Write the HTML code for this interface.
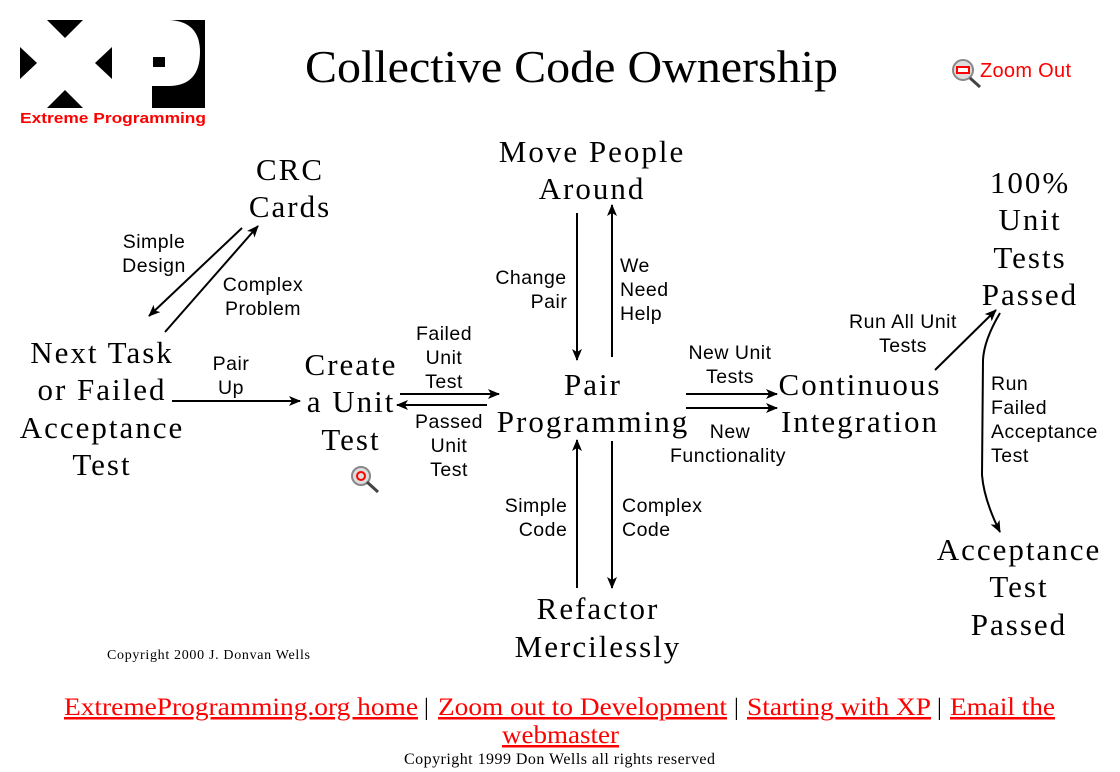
<!DOCTYPE html>
<html><head><meta charset="utf-8"><style>
html,body{margin:0;padding:0;background:#fff;width:1120px;height:772px;overflow:hidden}
svg{position:absolute;left:0;top:0}
.n{font-family:"Liberation Serif",serif;font-size:31px;letter-spacing:2px;fill:#000;text-anchor:middle}
.l{font-family:"Liberation Sans",sans-serif;font-size:19.5px;letter-spacing:0.5px;fill:#000;text-anchor:middle}
.ll{font-family:"Liberation Sans",sans-serif;font-size:19.5px;letter-spacing:0.5px;fill:#000}
.lk{font-family:"Liberation Serif",serif;font-size:25px;fill:#f00;text-decoration:underline}
.sp{font-family:"Liberation Serif",serif;font-size:24px}
</style></head><body>
<svg width="1120" height="772" viewBox="0 0 1120 772">
<defs><marker id="a" markerWidth="12" markerHeight="10" refX="11" refY="5" orient="auto" markerUnits="userSpaceOnUse"><path d="M0,0 L12,5 L0,10 L3,5Z" fill="#000"/></marker></defs>
<!-- logo -->
<polygon points="47,20 83,20 65,38" fill="#000"/>
<polygon points="20,47 37,63 20,79" fill="#000"/>
<polygon points="112,47 95,63 112,79" fill="#000"/>
<polygon points="47,108 83,108 65,90" fill="#000"/>
<rect x="152" y="20" width="53" height="88" fill="#000"/>
<path d="M148,20 L170,20 Q200,22 200,52 Q200,85 170,86 L152,86Z" fill="#fff"/>
<rect x="153" y="57" width="12" height="10" fill="#000"/>
<text x="20" y="123" font-family="Liberation Sans,sans-serif" font-weight="bold" font-size="15" fill="#f00" textLength="186" lengthAdjust="spacingAndGlyphs">Extreme Programming</text>
<text x="305" y="82" font-family="Liberation Serif,serif" font-size="45" textLength="533" lengthAdjust="spacingAndGlyphs">Collective Code Ownership</text>
<circle cx="963" cy="70" r="10" fill="#ddd" stroke="#888" stroke-width="2"/><rect x="957" y="67" width="12" height="6" fill="#fff" stroke="#f00" stroke-width="2"/><line x1="970" y1="78" x2="980" y2="87" stroke="#444" stroke-width="3"/>
<text x="980" y="77" font-family="Liberation Sans,sans-serif" font-size="20" fill="#f00" textLength="91">Zoom Out</text>
<!-- nodes -->
<text class="n"><tspan x="290" y="180">CRC</tspan><tspan x="290" y="217">Cards</tspan></text>
<text class="n"><tspan x="102" y="363">Next Task</tspan><tspan x="102" y="400">or Failed</tspan><tspan x="102" y="438">Acceptance</tspan><tspan x="102" y="475">Test</tspan></text>
<text class="n"><tspan x="351" y="375">Create</tspan><tspan x="351" y="412">a Unit</tspan><tspan x="351" y="450">Test</tspan></text>
<text class="n"><tspan x="592" y="162">Move People</tspan><tspan x="592" y="199">Around</tspan></text>
<text class="n"><tspan x="593" y="395">Pair</tspan><tspan x="593" y="432">Programming</tspan></text>
<text class="n"><tspan x="860" y="395">Continuous</tspan><tspan x="860" y="432">Integration</tspan></text>
<text class="n"><tspan x="1030" y="193">100%</tspan><tspan x="1030" y="230">Unit</tspan><tspan x="1030" y="268">Tests</tspan><tspan x="1030" y="305">Passed</tspan></text>
<text class="n"><tspan x="1019" y="560">Acceptance</tspan><tspan x="1019" y="597">Test</tspan><tspan x="1019" y="635">Passed</tspan></text>
<text class="n"><tspan x="598" y="619">Refactor</tspan><tspan x="598" y="657">Mercilessly</tspan></text>
<circle cx="361" cy="476" r="9" fill="#ddd" stroke="#888" stroke-width="2"/><circle cx="361" cy="476" r="4" fill="none" stroke="#f00" stroke-width="2"/><line x1="367" y1="482" x2="378" y2="492" stroke="#444" stroke-width="3"/>
<!-- labels -->
<text class="l"><tspan x="154" y="248">Simple</tspan><tspan x="154" y="272">Design</tspan></text>
<text class="l"><tspan x="263" y="291">Complex</tspan><tspan x="263" y="315">Problem</tspan></text>
<text class="l"><tspan x="231" y="370">Pair</tspan><tspan x="231" y="394">Up</tspan></text>
<text class="l"><tspan x="444" y="340">Failed</tspan><tspan x="444" y="364">Unit</tspan><tspan x="444" y="388">Test</tspan></text>
<text class="l"><tspan x="449" y="428">Passed</tspan><tspan x="449" y="452">Unit</tspan><tspan x="449" y="476">Test</tspan></text>
<text class="l"><tspan x="531" y="284">Change</tspan><tspan x="549" y="308">Pair</tspan></text>
<text class="ll"><tspan x="620" y="272">We</tspan><tspan x="620" y="296">Need</tspan><tspan x="620" y="320">Help</tspan></text>
<text class="l"><tspan x="730" y="359">New Unit</tspan><tspan x="730" y="383">Tests</tspan></text>
<text class="l"><tspan x="730" y="438">New</tspan><tspan x="728" y="462">Functionality</tspan></text>
<text class="l"><tspan x="903" y="328">Run All Unit</tspan><tspan x="903" y="352">Tests</tspan></text>
<text class="ll"><tspan x="991" y="390">Run</tspan><tspan x="991" y="414">Failed</tspan><tspan x="991" y="438">Acceptance</tspan><tspan x="991" y="462">Test</tspan></text>
<text class="l"><tspan x="536" y="512">Simple</tspan><tspan x="543" y="536">Code</tspan></text>
<text class="ll"><tspan x="622" y="512">Complex</tspan><tspan x="622" y="536">Code</tspan></text>
<text x="107" y="659" font-family="Liberation Serif,serif" font-size="14" textLength="203">Copyright 2000 J. Donvan Wells</text>
<!-- arrows -->
<g stroke="#000" stroke-width="2" fill="none">
<line x1="242" y1="228" x2="149" y2="316" marker-end="url(#a)"/>
<line x1="165" y1="332" x2="258" y2="226" marker-end="url(#a)"/>
<line x1="172" y1="401" x2="300" y2="401" marker-end="url(#a)"/>
<line x1="400" y1="394" x2="499" y2="394" marker-end="url(#a)"/>
<line x1="487" y1="405" x2="397" y2="405" marker-end="url(#a)"/>
<line x1="577" y1="213" x2="577" y2="360" marker-end="url(#a)"/>
<line x1="612" y1="357" x2="612" y2="205" marker-end="url(#a)"/>
<line x1="686" y1="394" x2="777" y2="394" marker-end="url(#a)"/>
<line x1="686" y1="408" x2="777" y2="408" marker-end="url(#a)"/>
<line x1="577" y1="588" x2="577" y2="440" marker-end="url(#a)"/>
<line x1="612" y1="441" x2="612" y2="588" marker-end="url(#a)"/>
<line x1="935" y1="370" x2="996" y2="310" marker-end="url(#a)"/>
<path d="M1000,313 Q984,340 983,360 L982,475 Q984,500 1000,532" marker-end="url(#a)"/>
</g>
<!-- footer -->
<text class="lk" x="64" y="715" textLength="354" lengthAdjust="spacingAndGlyphs">ExtremeProgramming.org home</text>
<text class="sp" x="424" y="715">|</text>
<text class="lk" x="438" y="715" textLength="289" lengthAdjust="spacingAndGlyphs">Zoom out to Development</text>
<text class="sp" x="734" y="715">|</text>
<text class="lk" x="747" y="715" textLength="184" lengthAdjust="spacingAndGlyphs">Starting with XP</text>
<text class="sp" x="937" y="715">|</text>
<text class="lk" x="950" y="715" textLength="105" lengthAdjust="spacingAndGlyphs">Email the</text>
<text class="lk" x="502" y="743" textLength="117" lengthAdjust="spacingAndGlyphs">webmaster</text>
<text x="404" y="764" font-family="Liberation Serif,serif" font-size="16" textLength="311">Copyright 1999 Don Wells all rights reserved</text>
</svg>
</body></html>
